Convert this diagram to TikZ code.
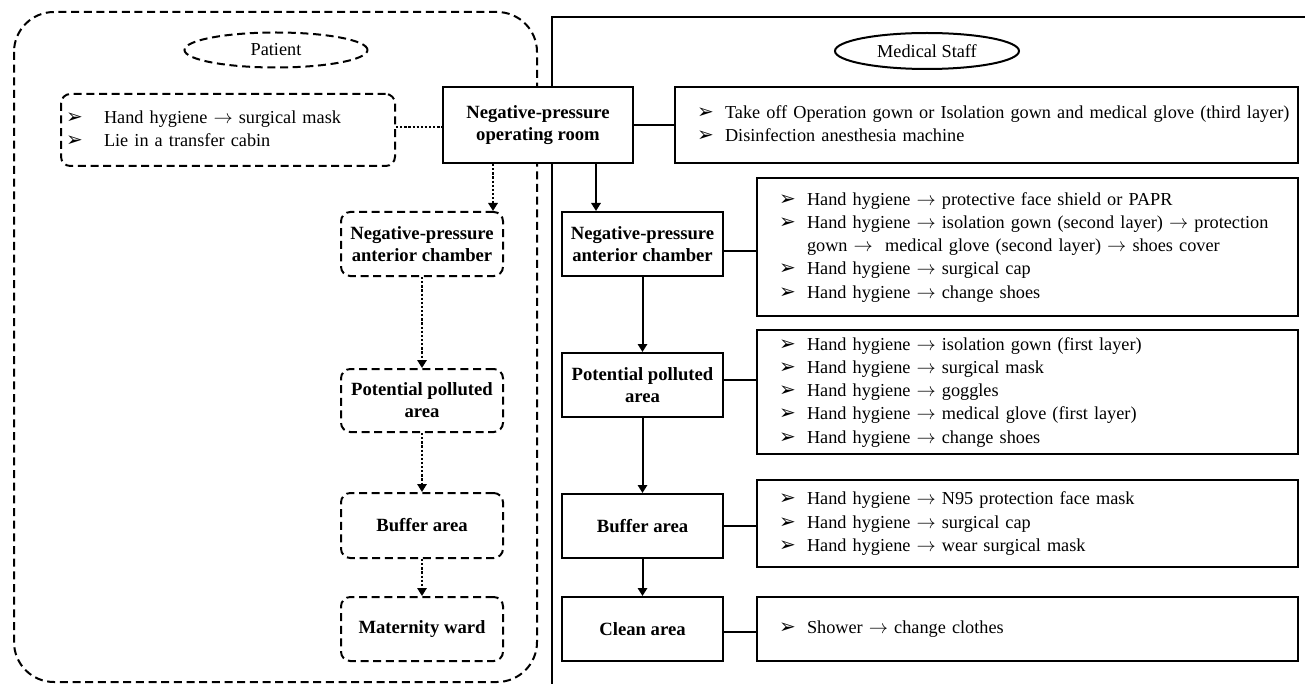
\documentclass[tikz,border=0pt]{standalone}
\usepackage{fontspec}
\setmainfont{Liberation Serif}
\newfontfamily\dejavu{DejaVu Sans}
\usetikzlibrary{arrows.meta,shapes.geometric}
\newcommand{\bl}[1]{\makebox[#1][l]{\dejavu\fontsize{15}{15}\selectfont ➢}}
\newcommand{\ar}{$\rightarrow$}
\begin{document}
\begin{tikzpicture}[x=0.75pt,y=-0.75pt,
  every node/.style={font=\fontsize{13.7}{17.4}\selectfont},
  sbox/.style={draw,fill=white,line width=1.5pt,minimum width=120.75pt,minimum height=48pt,align=center,inner sep=0pt,font=\fontsize{14}{16.5}\selectfont\bfseries},
  pbox/.style={sbox,minimum width=121.5pt,rounded corners=7pt,dash pattern=on 6pt off 3.5pt},
  lbox/.style={draw,line width=1.5pt,align=left,inner xsep=16.5pt,inner ysep=0pt,text width=372.75pt},
  con/.style={line width=1.5pt},
  arr/.style={con,-{Triangle[length=6pt,width=7pt]}},
  dotl/.style={line width=2.2pt,dash pattern=on 1.7pt off 1.4pt},
  darr/.style={dotl,-{Triangle[length=6pt,width=7pt]}},
  dashl/.style={line width=1.5pt,dash pattern=on 6pt off 3.5pt}]
\useasboundingbox (0,0) rectangle (1305,684);
% containers
\draw[dashl,rounded corners=30pt] (14,12) rectangle (537,682);
\draw[con] (552,685) -- (552,17) -- (1306,17);
\node[ellipse,draw,dashl,minimum width=137.25pt,minimum height=26.25pt,inner sep=0pt] (pt) at (276,50) {Patient};
\node[ellipse,draw,con,minimum width=138pt,minimum height=27pt,inner sep=0pt] (ms) at (927,51) {Medical Staff};
% staff column
\node[sbox,minimum width=142.5pt,minimum height=57pt] (op) at (538,125) {Negative-pressure\\operating room};
\node[sbox] (ant) at (642.5,244) {Negative-pressure\\anterior chamber};
\node[sbox] (pol) at (642.5,385) {Potential polluted\\area};
\node[sbox] (buf) at (642.5,526) {Buffer area};
\node[sbox] (cln) at (642.5,629) {Clean area};
% lists
\node[lbox,text width=434.25pt,minimum height=57pt] (L1) at (986.5,125) {\noindent\raisebox{-2pt}{\begin{tabular}{@{}l@{}}
\bl{21pt}Take off Operation gown or Isolation gown and medical glove (third layer)\\
\bl{21pt}Disinfection anesthesia machine\end{tabular}}};
\node[lbox,minimum height=103.5pt] (L2) at (1027.5,247) {\noindent\raisebox{-3pt}{\begin{tabular}{@{}l@{}}
\bl{21pt}Hand hygiene \ar{} protective face shield or PAPR\\
\bl{21pt}Hand hygiene \ar{} isolation gown (second layer) \ar{} protection\\
\hspace*{21pt}gown \ar{} \ medical glove (second layer) \ar{} shoes cover\\
\bl{21pt}Hand hygiene \ar{} surgical cap\\
\bl{21pt}Hand hygiene \ar{} change shoes\end{tabular}}};
\node[lbox,minimum height=93pt] (L3) at (1027.5,392) {\noindent\raisebox{-3pt}{\begin{tabular}{@{}l@{}}
\bl{21pt}Hand hygiene \ar{} isolation gown (first layer)\\
\bl{21pt}Hand hygiene \ar{} surgical mask\\
\bl{21pt}Hand hygiene \ar{} goggles\\
\bl{21pt}Hand hygiene \ar{} medical glove (first layer)\\
\bl{21pt}Hand hygiene \ar{} change shoes\end{tabular}}};
\node[lbox,minimum height=65.25pt] (L4) at (1027.5,523.5) {\noindent\raisebox{-3pt}{\begin{tabular}{@{}l@{}}
\bl{21pt}Hand hygiene \ar{} N95 protection face mask\\
\bl{21pt}Hand hygiene \ar{} surgical cap\\
\bl{21pt}Hand hygiene \ar{} wear surgical mask\end{tabular}}};
\node[lbox,minimum height=48pt] (L5) at (1027.5,629) {\noindent\raisebox{-2.5pt}{\begin{tabular}{@{}l@{}}
\bl{21pt}Shower \ar{} change clothes\end{tabular}}};
% patient column
\node[lbox,dashl,rounded corners=7pt,inner xsep=3.75pt,text width=243pt,minimum height=54pt] (pl) at (228,130) {\noindent\raisebox{-1.5pt}{\begin{tabular}{@{}l@{}}
\bl{28.5pt}Hand hygiene \ar{} surgical mask\\
\bl{28.5pt}Lie in a transfer cabin\end{tabular}}};
\node[pbox] (pant) at (422,244) {Negative-pressure\\anterior chamber};
\node[pbox,minimum height=47.25pt] (ppol) at (422,400.5) {Potential polluted\\area};
\node[pbox,minimum height=48.75pt] (pbuf) at (422,525.5) {Buffer area};
\node[pbox] (pmat) at (422,629) {Maternity ward};
% helper coordinates
\coordinate (a1) at ([xshift=-34.875pt]ant.north);
\coordinate (a2) at ([yshift=-5.25pt]ant.east);
\coordinate (a3) at ([yshift=3.75pt]pol.east);
\coordinate (a5) at ([yshift=-2.25pt]cln.east);
\coordinate (p0) at ([yshift=2.25pt]pl.east);
\coordinate (p1) at ([xshift=53.25pt]pant.north);
% staff connectors
\draw[con] (op.east) -- (L1.west |- op.east);
\draw[arr] (a1 |- op.south) -- (a1);
\draw[con] (a2) -- (L2.west |- a2);
\draw[arr] (ant.south) -- (pol.north);
\draw[con] (a3) -- (L3.west |- a3);
\draw[arr] (pol.south) -- (buf.north);
\draw[con] (buf.east) -- (L4.west |- buf.east);
\draw[arr] (buf.south) -- (cln.north);
\draw[con] (a5) -- (L5.west |- a5);
% patient connectors
\draw[dotl] (p0) -- (op.west |- p0);
\draw[darr] (p1 |- op.south) -- (p1);
\draw[darr] (pant.south) -- (ppol.north);
\draw[darr] (ppol.south) -- (pbuf.north);
\draw[darr] (pbuf.south) -- (pmat.north);
\end{tikzpicture}
\end{document}
